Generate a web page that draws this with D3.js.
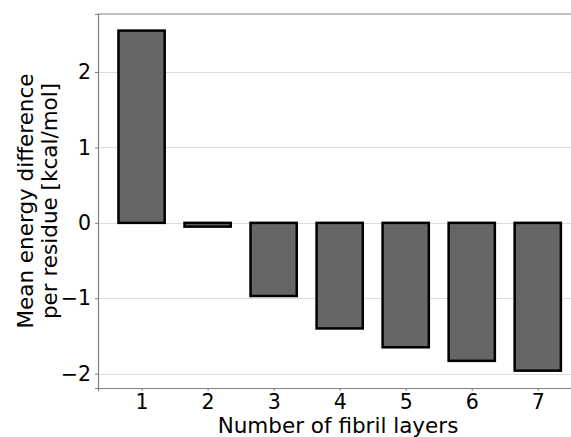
<!DOCTYPE html>
<html>
<head>
<meta charset="utf-8">
<script src="https://cdn.jsdelivr.net/npm/d3@7"></script>
<style>
  body { margin: 0; background: #fff; }
  svg { display: block; font-family: "DejaVu Sans", sans-serif; }
</style>
</head>
<body>
<div id="chart"></div>
<script>
// fibril layers vs mean energy difference per residue
var layers = [1, 2, 3, 4, 5, 6, 7];
var energy = [2.55, -0.05, -0.97, -1.40, -1.65, -1.83, -1.96];
var yTicks = [-2, -1, 0, 1, 2];

var w = 571, h = 437;
var margin = {top: 14, right: -12, bottom: 49, left: 98};

var svg = d3.select("#chart").append("svg")
  .attr("width", w)
  .attr("height", h);

var x = d3.scaleLinear()
  .domain([0.34, 7.685])
  .range([margin.left, w - margin.right]);

var y = d3.scaleLinear()
  .domain([-2.19, 2.77])
  .range([h - margin.bottom, margin.top]);

var barW = 0.7;

// gridlines
svg.append("g")
  .selectAll("line")
  .data(yTicks)
  .enter()
  .append("line")
  .attr("x1", margin.left)
  .attr("x2", w)
  .attr("y1", function(d) { return Math.round(y(d)) + 0.5; })
  .attr("y2", function(d) { return Math.round(y(d)) + 0.5; })
  .attr("stroke", "#dcdcdc")
  .attr("stroke-width", 1.2);

// bars
svg.append("g")
  .selectAll("rect")
  .data(layers)
  .enter()
  .append("rect")
  .attr("x", function(d) { return x(d - barW / 2); })
  .attr("width", function(d) { return x(d + barW / 2) - x(d - barW / 2); })
  .attr("y", function(d, i) { return y(Math.max(0, energy[i])); })
  .attr("height", function(d, i) { return Math.abs(y(energy[i]) - y(0)); })
  .attr("fill", "#666666")
  .attr("stroke", "#000")
  .attr("stroke-width", 2.5);

// axes
var xAxis = svg.append("g")
  .attr("transform", "translate(0," + (h - margin.bottom) + ")")
  .call(d3.axisBottom(x).tickValues(layers).tickFormat(d3.format("d")).tickSize(3).tickPadding(3));

var yAxis = svg.append("g")
  .attr("transform", "translate(" + margin.left + ",0)")
  .call(d3.axisLeft(y).tickValues(yTicks).tickFormat(function(d) {
    return d < 0 ? "\u2212" + Math.abs(d) : d;
  }).tickSize(3).tickPadding(4));

[xAxis, yAxis].forEach(function(a) {
  a.select(".domain").attr("stroke", "#808080").attr("stroke-width", 1.2);
  a.selectAll(".tick line").attr("stroke", "#808080");
  a.selectAll(".tick text")
    .attr("font-size", "20.5px")
    .attr("font-family", "DejaVu Sans, sans-serif")
    .attr("fill", "#000");
});

// top spine
svg.append("line")
  .attr("x1", margin.left)
  .attr("x2", w)
  .attr("y1", margin.top)
  .attr("y2", margin.top)
  .attr("stroke", "#808080")
  .attr("stroke-width", 1.2);

// axis labels
svg.append("text")
  .attr("x", 338)
  .attr("y", 433)
  .attr("text-anchor", "middle")
  .attr("font-size", "21.5px")
  .text("Number of fibril layers");

var yl = svg.append("text")
  .attr("transform", "translate(33,201) rotate(-90)")
  .attr("text-anchor", "middle")
  .attr("font-size", "21.5px");
yl.append("tspan").attr("x", 0).attr("dy", 0).text("Mean energy difference");
yl.append("tspan").attr("x", 0).attr("dy", 24).text("per residue [kcal/mol]");
</script>
</body>
</html>
